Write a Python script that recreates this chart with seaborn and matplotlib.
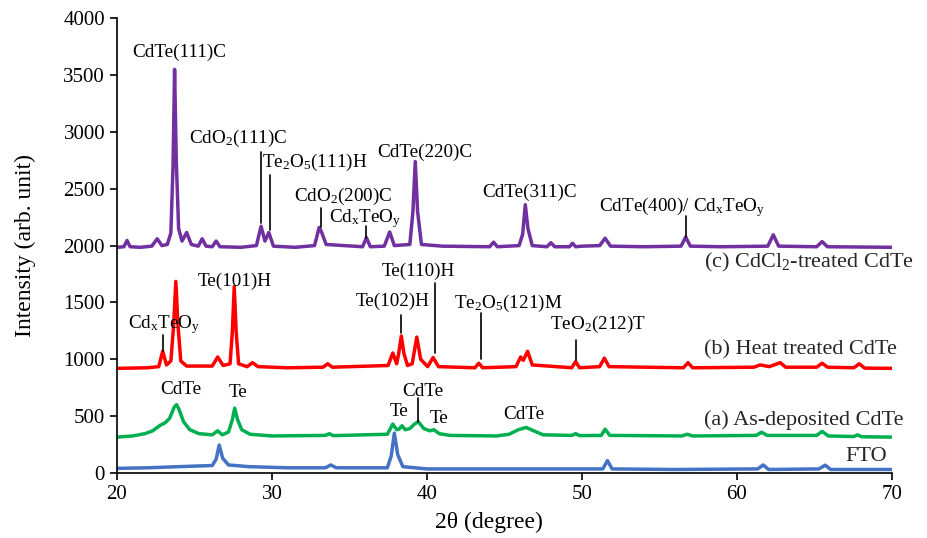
import pandas as pd
import numpy as np
import matplotlib
matplotlib.use("Agg")
import matplotlib.pyplot as plt
import seaborn as sns

# XRD patterns (2theta in degree, intensity in arb. unit)
c_2theta = [20.0, 20.45, 20.65, 20.85, 21.5, 22.25, 22.6, 22.9, 23.25, 23.48, 23.62, 23.72, 23.83, 23.98, 24.2,
            24.5, 24.8, 25.25, 25.5, 25.75, 26.15, 26.4, 26.65, 28.0, 29.0, 29.3, 29.55, 29.8, 30.1, 31.5,
            32.75, 33.05, 33.2, 33.5, 35.85, 36.1, 36.35, 37.25, 37.6, 37.9, 38.9, 39.1, 39.25, 39.4, 39.65,
            41.0, 44.05, 44.3, 44.55, 45.95, 46.18, 46.35, 46.52, 46.8, 47.75, 48.0, 48.25, 49.2, 49.4, 49.6,
            50.0, 51.15, 51.5, 51.85, 54.0, 56.4, 56.7, 57.0, 59.0, 62.0, 62.35, 62.7, 65.15, 65.5, 65.85, 70.0]
c_int = [1985, 1990, 2045, 1990, 1985, 1995, 2060, 2000, 2010, 2110, 2700, 3550, 2750, 2150, 2040,
         2115, 2010, 1995, 2060, 1995, 1990, 2040, 1990, 1985, 2000, 2170, 2040, 2115, 1995, 1985,
         2000, 2160, 2120, 2010, 1990, 2070, 1990, 1995, 2120, 2000, 2010, 2300, 2740, 2300, 2010,
         1995, 1990, 2030, 1990, 2000, 2100, 2360, 2150, 2000, 1990, 2025, 1990, 1990, 2020, 1990,
         1995, 2000, 2065, 1995, 1990, 1995, 2075, 1995, 1990, 1995, 2095, 1995, 1990, 2035, 1990, 1985]

b_2theta = [20.0, 22.0, 22.7, 22.95, 23.2, 23.48, 23.66, 23.8, 23.94, 24.12, 24.5, 26.15, 26.5, 26.85,
            27.3, 27.45, 27.57, 27.69, 27.85, 28.4, 28.75, 29.1, 31.0, 33.3, 33.6, 33.9, 37.5, 37.8,
            38.05, 38.18, 38.35, 38.52, 38.75, 39.05, 39.35, 39.6, 40.05, 40.4, 40.75, 43.1, 43.35, 43.6,
            45.75, 46.05, 46.22, 46.5, 46.8, 49.35, 49.6, 49.85, 51.15, 51.45, 51.75, 56.55, 56.85, 57.15,
            61.1, 61.5, 62.1, 62.8, 63.15, 65.15, 65.5, 65.85, 67.55, 67.9, 68.25, 70.0]
b_int = [920, 925, 935, 1070, 950, 985, 1300, 1685, 1300, 985, 940, 940, 1020, 945,
         960, 1250, 1640, 1250, 960, 935, 970, 935, 925, 930, 960, 930, 945, 1055,
         960, 1050, 1205, 1050, 945, 960, 1195, 1000, 935, 1015, 935, 925, 965, 925,
         935, 1020, 990, 1070, 950, 925, 980, 925, 935, 1010, 935, 925, 970, 925,
         930, 950, 935, 970, 930, 930, 965, 930, 925, 960, 922, 920]

a_2theta = [20.0, 21.0, 21.8, 22.3, 22.8, 23.1, 23.4, 23.7, 23.85, 24.0, 24.3, 24.7, 25.3, 26.15, 26.5,
            26.8, 27.2, 27.45, 27.6, 27.78, 28.05, 28.6, 30.0, 33.45, 33.7, 33.95, 37.45, 37.8, 38.05, 38.2,
            38.4, 38.6, 38.9, 39.2, 39.45, 39.8, 40.2, 40.45, 40.8, 41.5, 44.5, 45.3, 45.9, 46.4, 46.9,
            47.5, 49.35, 49.6, 49.85, 51.25, 51.5, 51.8, 56.45, 56.8, 57.15, 61.25, 61.6, 61.95, 65.15, 65.5,
            65.9, 67.55, 67.8, 68.05, 70.0]
a_int = [315, 325, 345, 370, 420, 440, 480, 580, 600, 560, 450, 380, 345, 335, 370,
         335, 360, 470, 570, 470, 380, 340, 325, 330, 345, 328, 340, 430, 380, 385,
         415, 380, 390, 430, 450, 390, 370, 380, 345, 330, 325, 340, 380, 400, 370,
         335, 330, 345, 328, 330, 385, 330, 325, 340, 325, 330, 358, 330, 330, 365,
         325, 320, 335, 318, 315]

fto_2theta = [20.0, 22.0, 24.0, 26.15, 26.4, 26.6, 26.82, 27.2, 28.5, 31.0, 33.45, 33.8, 34.15, 37.45, 37.7,
              37.9, 38.12, 38.45, 40.0, 45.0, 51.35, 51.65, 51.95, 56.0, 61.35, 61.7, 62.05, 65.3, 65.7, 66.05, 70.0]
fto_int = [40, 45, 55, 65, 120, 245, 130, 70, 55, 45, 45, 70, 45, 45, 150,
           350, 160, 55, 35, 35, 35, 108, 35, 30, 35, 70, 30, 35, 68, 30, 30]

samples = ["FTO", "a", "b", "c"]
colors = ["#4472C4", "#00B050", "#FF0000", "#7030A0"]

df = pd.concat([
    pd.DataFrame({"two_theta": fto_2theta, "intensity": fto_int, "sample": "FTO"}),
    pd.DataFrame({"two_theta": a_2theta, "intensity": a_int, "sample": "a"}),
    pd.DataFrame({"two_theta": b_2theta, "intensity": b_int, "sample": "b"}),
    pd.DataFrame({"two_theta": c_2theta, "intensity": c_int, "sample": "c"}),
])

sns.set_style("ticks")
plt.rcParams['font.family'] = ['Liberation Serif', 'DejaVu Serif']
plt.rcParams['mathtext.fontset'] = 'custom'
plt.rcParams['mathtext.rm'] = 'Liberation Serif'
plt.rcParams['mathtext.it'] = 'Liberation Serif:italic'

fig, ax = plt.subplots(figsize=(9.28, 5.38), dpi=100)
fig.subplots_adjust(left=0.126, right=0.961, bottom=0.121, top=0.966)

sns.lineplot(data=df, x="two_theta", y="intensity", hue="sample", hue_order=samples,
             palette=colors, estimator=None, linewidth=2.5, legend=False, ax=ax)

ax.set_xlim(20, 70)
ax.set_ylim(0, 4000)
ax.set_xticks(range(20, 71, 10))
ax.set_yticks(range(0, 4001, 500))
ax.tick_params(direction="out", length=5, width=1.2, labelsize=15, color="black", labelcolor="black")
for s in ["left", "bottom"]:
    ax.spines[s].set_color("black")
    ax.spines[s].set_linewidth(1.2)
sns.despine(ax=ax)
ax.set_xlabel("2θ (degree)", fontsize=17, color="black")
ax.set_ylabel("Intensity (arb. unit)", fontsize=17, color="black")
ax.xaxis.set_label_coords(0.48, -0.085)
ax.yaxis.set_label_coords(-0.105, 0.5)

# peak labels: text, x, y, and optional marker line (x, y0, y1)
labels = [
    ("CdTe(111)C", 24.0, 3700, None),
    ("CdO$_2$(111)C", 27.8, 2940, (29.3, 2200, 2820)),
    ("Te$_2$O$_5$(111)H", 32.75, 2730, (29.85, 2140, 2625)),
    ("CdO$_2$(200)C", 34.6, 2435, (33.15, 2160, 2335)),
    ("Cd$_\\mathrm{x}$TeO$_\\mathrm{y}$", 36.05, 2240, (36.05, 2070, 2170)),
    ("CdTe(220)C", 39.85, 2820, None),
    ("CdTe(311)C", 46.65, 2465, None),
    ("CdTe(400)/ Cd$_\\mathrm{x}$TeO$_\\mathrm{y}$", 56.5, 2335, (56.7, 2080, 2260)),
    ("Cd$_\\mathrm{x}$TeO$_\\mathrm{y}$", 23.05, 1305, (22.95, 1075, 1215)),
    ("Te(101)H", 27.6, 1685, None),
    ("Te(102)H", 37.8, 1510, (38.3, 1230, 1390)),
    ("Te(110)H", 39.45, 1775, (40.52, 1055, 1670)),
    ("Te$_2$O$_5$(121)M", 45.25, 1495, (43.5, 1000, 1405)),
    ("TeO$_2$(212)T", 51.05, 1305, (49.6, 995, 1170)),
    ("CdTe", 24.1, 730, None),
    ("Te", 27.8, 707, None),
    ("Te", 38.2, 540, None),
    ("CdTe", 39.75, 716, (39.4, 452, 663)),
    ("Te", 40.8, 482, None),
    ("CdTe", 46.25, 511, None),
]
for text, x, y, mark in labels:
    ax.text(x, y, text, fontsize=13.8, ha="center", va="center", color="black")
    if mark is not None:
        ax.plot([mark[0], mark[0]], [mark[1], mark[2]], color="black", lw=1.2)

ax.text(57.9, 1850, "(c) CdCl$_2$-treated CdTe", fontsize=16, ha="left", va="center", clip_on=False)
ax.text(57.9, 1085, "(b) Heat treated CdTe", fontsize=16, ha="left", va="center", clip_on=False)
ax.text(57.9, 467, "(a) As-deposited CdTe", fontsize=16, ha="left", va="center", clip_on=False)
ax.text(69.7, 143, "FTO", fontsize=16, ha="right", va="center")

plt.savefig("out.png", dpi=100)
